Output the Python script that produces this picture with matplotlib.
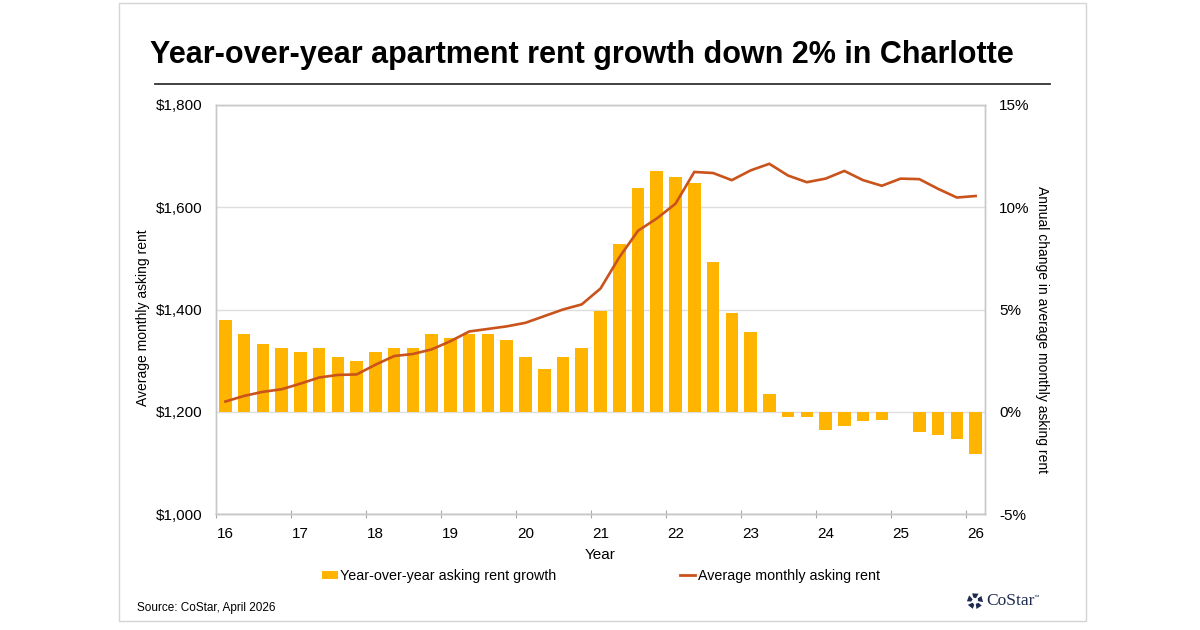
import matplotlib.pyplot as plt
import matplotlib.patches as patches
from matplotlib.lines import Line2D
import numpy as np

plt.rcParams["font.family"] = ["Liberation Sans", "DejaVu Sans"]

# quarterly data, 2016 Q1 .. 2026 Q1
quarters = [f"{y} Q{q}" for y in range(2016, 2026) for q in range(1, 5)] + ["2026 Q1"]
rent = [
    1220, 1231, 1239, 1244,
    1255, 1267, 1272, 1273,
    1292, 1309, 1313, 1322,
    1338, 1357, 1362, 1367,
    1374, 1387, 1400, 1410,
    1441, 1502, 1554, 1578,
    1607, 1669, 1667, 1653,
    1672, 1685, 1662, 1649,
    1656, 1671, 1653, 1642,
    1656, 1655, 1636, 1619,
    1622,
]
growth = [
    4.5, 3.8, 3.3, 3.1,
    2.9, 3.1, 2.7, 2.5,
    2.9, 3.1, 3.1, 3.8,
    3.6, 3.8, 3.8, 3.5,
    2.7, 2.1, 2.7, 3.1,
    4.95, 8.2, 10.95, 11.75,
    11.5, 11.2, 7.3, 4.85,
    3.9, 0.85, -0.28, -0.28,
    -0.88, -0.72, -0.44, -0.42,
    -0.03, -0.98, -1.14, -1.33,
    -2.05,
]
year_labels = ["16", "17", "18", "19", "20", "21", "22", "23", "24", "25", "26"]
rent_ticks = [1000, 1200, 1400, 1600, 1800]
pct_ticks = [-5, 0, 5, 10, 15]

BAR_COLOR = "#FFB500"
LINE_COLOR = "#C9531A"
SPINE_COLOR = "#c8c8c8"
GRID_COLOR = "#dedede"

fig = plt.figure(figsize=(12, 6.3), dpi=100)

# card border
fig.patches.append(
    patches.Rectangle(
        (119 / 1200, 1 - 621 / 630), (1086 - 119) / 1200, (621 - 3) / 630,
        transform=fig.transFigure, facecolor="none", edgecolor="#d4d4d4", linewidth=1,
    )
)

ax = fig.add_axes([216 / 1200, 1 - 514 / 630, (985 - 216) / 1200, (514 - 105) / 630])
ax2 = ax.twinx()

x = np.arange(len(quarters))
ax.bar(x, growth, width=0.67, color=BAR_COLOR, zorder=2)
ax.set_ylim(-5, 15)
ax.set_yticks(pct_ticks)
ax.set_yticklabels([f"{t}%" for t in pct_ticks])
ax.yaxis.tick_right()
ax.yaxis.set_label_position("right")
ax.grid(axis="y", color=GRID_COLOR, linewidth=1, zorder=0)
ax.set_axisbelow(True)

ax2.plot(x, rent, color=LINE_COLOR, linewidth=1.9, solid_joinstyle="miter")
ax2.set_ylim(1000, 1800)
ax2.set_yticks(rent_ticks)
ax2.set_yticklabels([f"${t:,}" for t in rent_ticks])
ax2.yaxis.tick_left()
ax2.yaxis.set_label_position("left")

ax.set_xlim(-0.5, len(quarters) - 0.5)
ax.set_xticks(np.arange(-0.5, len(quarters) - 1, 4))
ax.set_xticklabels([])
ax.set_xticks(np.arange(0, len(quarters), 4), minor=True)
ax.set_xticklabels(year_labels, minor=True)
ax.tick_params(axis="x", which="major", direction="inout", length=6, color="#a8a8a8")
ax.tick_params(axis="x", which="minor", length=0, pad=9, labelsize=11)

for a in (ax, ax2):
    for s in a.spines.values():
        s.set_color(SPINE_COLOR)
        s.set_linewidth(1)
ax.spines["bottom"].set_color("#b0b0b0")

ax.tick_params(axis="y", length=0, pad=10, labelsize=11, colors="black")
ax2.tick_params(axis="y", length=0, pad=10, labelsize=11, colors="black")

ax.set_xlabel("Year", fontsize=11)
ax.xaxis.set_label_coords(0.5, -0.083)
ax2.set_ylabel("Average monthly asking rent", fontsize=10)
ax2.yaxis.set_label_coords(-0.086, 0.48)
ax.set_ylabel("Annual change in average monthly asking rent", fontsize=10, rotation=-90, va="center")
ax.yaxis.set_label_coords(1.074, 0.45)

# title and rule
fig.text(150 / 1200, 1 - 63 / 630, "Year-over-year apartment rent growth down 2% in Charlotte",
         fontsize=22, fontweight="bold", va="baseline", ha="left")
fig.add_artist(Line2D([155 / 1200, 1050 / 1200], [1 - 84 / 630, 1 - 84 / 630],
                      transform=fig.transFigure, color="#333333", linewidth=1.3))

# legend
handles = [
    patches.Patch(facecolor=BAR_COLOR, edgecolor="none"),
    Line2D([], [], color=LINE_COLOR, linewidth=2),
]
fig.legend(handles, ["Year-over-year asking rent growth", "Average monthly asking rent"],
           loc="center", bbox_to_anchor=(601 / 1200, 1 - 576 / 630), ncol=2, frameon=False,
           fontsize=10.3, handlelength=1.1, handleheight=0.55, handletextpad=0.15,
           columnspacing=8.6)

# source
fig.text(137 / 1200, 1 - 608 / 630, "Source: CoStar, April 2026", fontsize=8.5, va="center")

# CoStar logo
LOGO = "#1d2b4f"
cx, cy, r = 975, 601, 6.5
for k in range(5):
    ang = np.pi / 2 + k * 2 * np.pi / 5
    pts = []
    for dr, dt in [(0.45, -0.35), (1.25, -0.45), (1.25, 0.35), (0.6, 0.45)]:
        a = ang + dt
        pts.append(((cx + r * dr * np.cos(a)) / 1200, 1 - (cy - r * dr * np.sin(a)) / 630))
    fig.patches.append(patches.Polygon(pts, closed=True, transform=fig.transFigure,
                                       facecolor=LOGO, edgecolor="none"))
fig.text(986 / 1200, 1 - 601 / 630, "CoStar", fontsize=12.5, family=["Liberation Serif"],
         color=LOGO, va="center", ha="left")
fig.text(1034 / 1200, 1 - 597 / 630, "\u2122", fontsize=4, color=LOGO, va="center")

fig.savefig("out.png", dpi=100)
